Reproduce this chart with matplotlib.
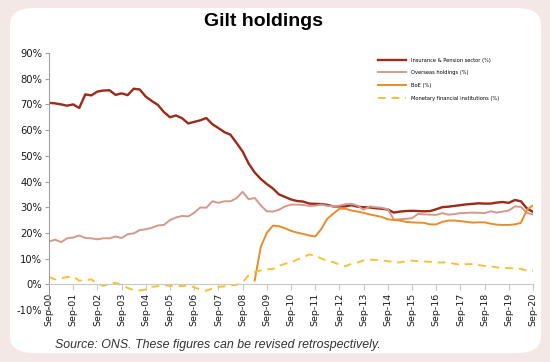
import matplotlib.pyplot as plt
import numpy as np
from matplotlib.patches import FancyBboxPatch

# Quarterly data, Sep-00 .. Sep-20 (81 points)
insurance = [70.6, 70.4, 70.0, 69.5, 70.0, 68.6, 73.9, 73.5, 75.0, 75.4,
             75.5, 73.7, 74.3, 73.6, 76.1, 75.8, 73.0, 71.3, 69.8, 67.0,
             65.0, 65.7, 64.6, 62.6, 63.2, 63.8, 64.7, 62.3, 60.8, 59.2,
             58.2, 55.0, 51.7, 47.0, 43.5, 41.0, 39.0, 37.3, 35.0, 34.0,
             33.0, 32.4, 32.2, 31.4, 31.3, 31.2, 30.9, 30.3, 30.3, 30.3,
             30.8, 30.2, 30.0, 29.9, 29.6, 29.4, 29.1, 27.9, 28.3, 28.5,
             28.6, 28.5, 28.4, 28.5, 29.2, 30.0, 30.2, 30.5, 30.8, 31.1,
             31.3, 31.5, 31.4, 31.4, 31.8, 32.0, 31.7, 32.8, 32.3, 29.5,
             28.2]
overseas = [16.6, 17.4, 16.4, 17.9, 18.2, 19.0, 18.0, 17.9, 17.5, 17.9,
            17.9, 18.6, 18.0, 19.5, 19.8, 21.1, 21.4, 22.0, 22.9, 23.1,
            25.0, 26.0, 26.6, 26.4, 27.8, 29.9, 29.8, 32.3, 31.7, 32.3,
            32.3, 33.5, 36.0, 33.1, 33.6, 30.7, 28.4, 28.3, 29.0, 30.3,
            31.0, 31.0, 30.9, 30.5, 30.6, 31.0, 30.5, 30.4, 30.6, 31.2,
            31.3, 30.6, 29.0, 30.3, 30.0, 29.8, 29.2, 25.2, 25.3, 25.5,
            25.7, 27.4, 27.2, 27.1, 27.0, 27.7, 27.1, 27.3, 27.7, 27.8,
            27.9, 27.8, 27.7, 28.4, 27.9, 28.3, 28.7, 30.3, 30.1, 27.8,
            27.1]
boe = [np.nan] * 34 + [1.5, 14.5, 20.0, 22.8, 22.6, 21.8, 20.8, 20.1, 19.6, 19.0,
                       18.6, 21.5, 25.5, 27.5, 29.4, 29.4, 28.7, 28.3, 27.8, 27.2,
                       26.7, 26.2, 25.3, 25.0, 24.8, 24.3, 24.1, 24.0, 23.9, 23.3,
                       23.3, 24.3, 24.8, 24.8, 24.6, 24.3, 24.0, 24.1, 24.1, 23.6,
                       23.2, 23.1, 23.1, 23.3, 23.9, 29.0, 30.7]
mfi = [2.9, 1.9, 2.3, 2.8, 3.0, 1.4, 1.6, 1.9, 0.2, -0.6,
       0.2, 0.6, -0.3, -1.4, -2.3, -2.4, -2.0, -1.0, -0.7, -0.3,
       -0.6, -0.8, -0.7, -0.3, -1.2, -2.0, -2.5, -1.6, -1.0, -0.8,
       -0.4, -0.2, 0.8, 3.5, 4.7, 5.4, 5.9, 5.9, 7.1, 8.0,
       8.5, 9.6, 10.5, 11.6, 11.2, 10.0, 9.2, 8.6, 7.7, 7.0,
       8.0, 8.5, 9.3, 9.6, 9.5, 9.3, 9.0, 8.6, 8.5, 9.0,
       9.2, 9.0, 8.9, 8.7, 8.5, 8.5, 8.5, 8.0, 7.6, 7.8,
       7.9, 7.5, 7.1, 7.0, 6.6, 6.3, 6.3, 6.2, 6.0, 5.3,
       5.3]
year_labels = ['Sep-%02d' % y for y in range(0, 21)]

fig = plt.figure(figsize=(5.5, 3.62), dpi=100)
fig.patch.set_facecolor('#f3e8e5')

# white rounded panel
panel = FancyBboxPatch((10 / 550, 1 - 353 / 362), 531 / 550, 345 / 362,
                       boxstyle='round,pad=0,rounding_size=0.045',
                       transform=fig.transFigure, facecolor='white',
                       edgecolor='none', zorder=-5)
fig.patches.append(panel)

ax = fig.add_axes([49 / 550, 1 - 310 / 362, 484 / 550, 257 / 362])
ax.set_facecolor('none')

for s in ['top', 'right']:
    ax.spines[s].set_visible(False)
ax.spines['bottom'].set_position(('data', 0))
ax.spines['bottom'].set_color('#c8c8c8')
ax.spines['left'].set_color('#a0a0a0')

q = np.arange(len(insurance))
ax.plot(q, insurance, color='#9c2a18', lw=1.7, label='Insurance & Pension sector (%)')
ax.plot(q, overseas, color='#d4998b', lw=1.4, label='Overseas holdings (%)')
ax.plot(q, boe, color='#e88d2a', lw=1.4, label='BoE (%)')
ax.plot(q, mfi, color='#f4c236', lw=1.4, ls=(0, (4, 3)), label='Monetary financial institutions (%)')

ax.set_xlim(0, 80)
ax.set_ylim(-10, 90)
ax.set_yticks(range(-10, 91, 10))
ax.set_yticklabels(['%d%%' % v for v in range(-10, 91, 10)], fontsize=7.2, color='#1a1a1a')
ax.set_xticks(range(0, 81, 4))
ax.set_xticklabels(year_labels, rotation=90, fontsize=6.8, color='#1a1a1a')
ax.tick_params(axis='x', length=4, color='#c8c8c8', pad=2)
ax.tick_params(axis='y', length=3, color='#a0a0a0', pad=2)

ax.legend(loc='upper left', bbox_to_anchor=(375 / 550, 1 - 55 / 362),
          bbox_transform=fig.transFigure, frameon=False, fontsize=3.7,
          handlelength=5.5, handletextpad=1, labelspacing=1.5, borderpad=0)

fig.text(264 / 550, 1 - 22 / 362, 'Gilt holdings', ha='center', va='center',
         fontsize=14, fontweight='bold', family='Liberation Sans')
fig.text(55 / 550, 1 - 345 / 362, 'Source: ONS. These figures can be revised retrospectively.',
         ha='left', va='center', fontsize=8.9, style='italic', color='#333333',
         family='Liberation Sans')

fig.savefig('out.png', dpi=100, facecolor=fig.get_facecolor())
